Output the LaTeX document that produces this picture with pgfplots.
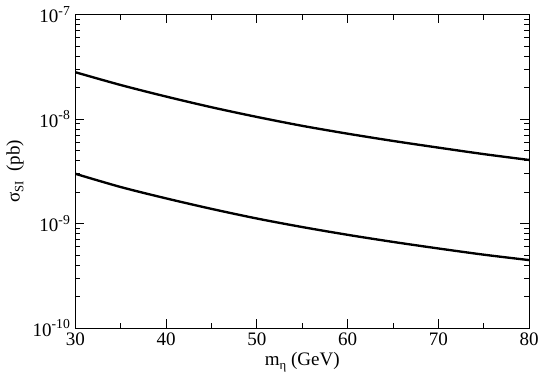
\documentclass[border=0pt]{standalone}
\usepackage{fontspec}
\setmainfont{Liberation Serif}
\usepackage{pgfplots}
\pgfplotsset{compat=1.18}

\newcommand{\sub}[1]{\raisebox{-0.45ex}{\fontsize{13}{13}\selectfont #1}}
\newcommand{\pw}[1]{10\raisebox{0.85ex}{\fontsize{14}{14}\selectfont #1}}

\begin{document}
\fontsize{19.5}{22}\selectfont
\begin{tikzpicture}
\begin{axis}[
    scale only axis,
    width=464.5pt, height=321pt,
    xmin=30, xmax=80,
    ymode=log, ymin=1e-10, ymax=1e-7,
    xtick={30,40,50,60,70,80},
    minor x tick num=1,
    ytick={1e-10,1e-9,1e-8,1e-7},
    yticklabels={\pw{-10},\pw{-9},\pw{-8},\pw{-7}},
    tick align=inside,
    major tick length=9pt,
    minor tick length=5pt,
    axis line style={line width=1pt},
    every tick/.style={black, line width=0.9pt},
    every tick label/.append style={font=\fontsize{19.5}{22}\selectfont},
    xticklabel style={/pgf/number format/assume math mode=true, yshift=2pt},
    yticklabel style={xshift=1pt},
    xlabel={m\sub{η} (GeV)},
    ylabel={σ\sub{SI}~~(pb)},
    xlabel style={yshift=6pt},
    ylabel style={yshift=-4pt},
    every axis label/.append style={font=\fontsize{19.5}{22}\selectfont},
]
% upper curve
\addplot[black, line width=2.4pt, smooth] coordinates {
    (30, 2.81e-8) (35, 2.12e-8) (40, 1.645e-8) (45, 1.30e-8)
    (50, 1.05e-8) (55, 8.63e-9) (60, 7.26e-9) (65, 6.19e-9)
    (70, 5.34e-9) (75, 4.63e-9) (80, 4.07e-9)
};
% lower curve
\addplot[black, line width=2.4pt, smooth] coordinates {
    (30, 3.0e-9) (35, 2.24e-9) (40, 1.745e-9) (45, 1.385e-9)
    (50, 1.12e-9) (55, 9.28e-10) (60, 7.82e-10) (65, 6.69e-10)
    (70, 5.79e-10) (75, 5.05e-10) (80, 4.48e-10)
};
\end{axis}
\end{tikzpicture}
\end{document}
